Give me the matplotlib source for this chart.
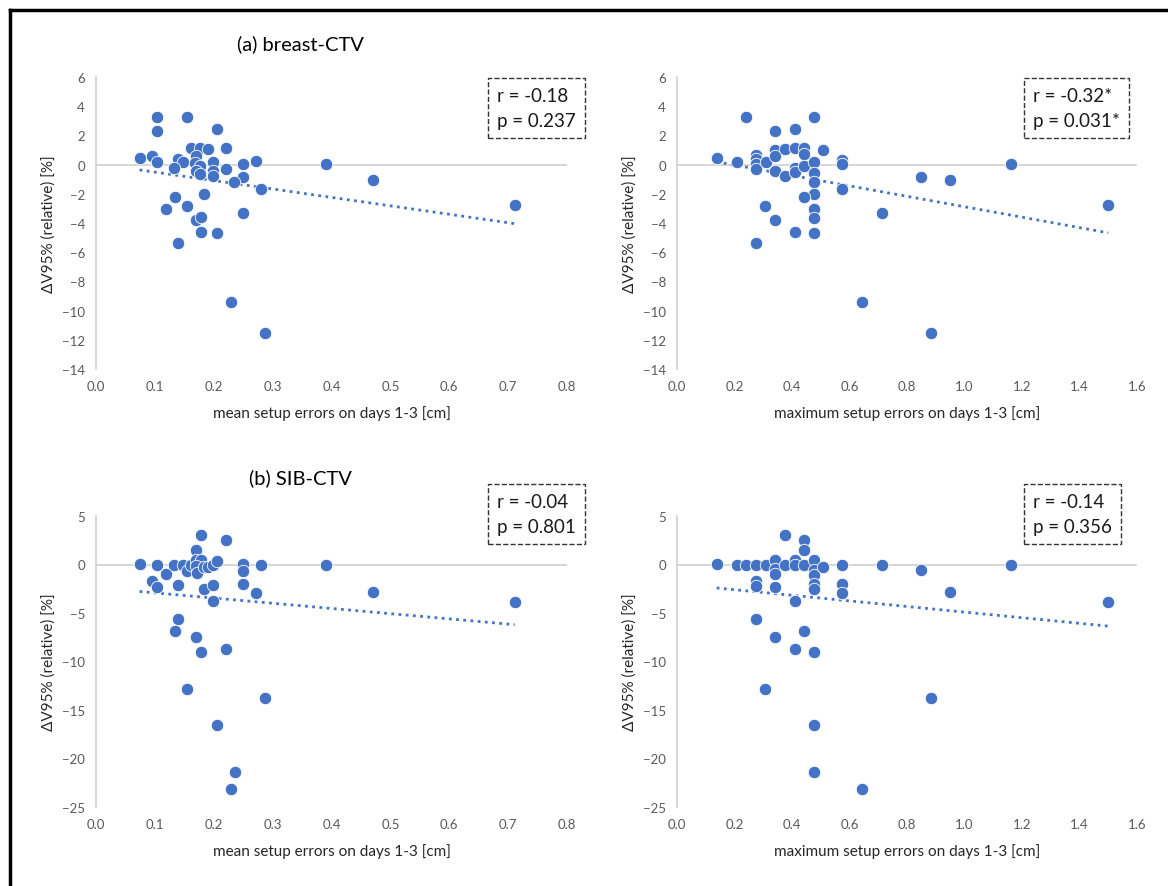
import numpy as np
import matplotlib.pyplot as plt
from matplotlib.lines import Line2D

# (a) breast-CTV, mean setup errors
a_mean_x = [0.074, 0.103, 0.103, 0.154, 0.205, 0.095, 0.103, 0.139, 0.147, 0.133,
            0.162, 0.177, 0.191, 0.221, 0.170, 0.169, 0.177, 0.170, 0.177, 0.198,
            0.198, 0.198, 0.221, 0.250, 0.272, 0.250, 0.235, 0.280, 0.390, 0.470,
            0.184, 0.134, 0.119, 0.154, 0.170, 0.178, 0.250, 0.178, 0.205, 0.139,
            0.229, 0.287, 0.711]
a_mean_y = [0.43, 3.24, 2.33, 3.24, 2.44, 0.62, 0.21, 0.41, 0.16, -0.23,
            1.12, 1.12, 1.07, 1.16, 0.57, 0.11, -0.07, -0.41, -0.62, 0.16,
            -0.41, -0.80, -0.30, 0.05, 0.27, -0.84, -1.16, -1.64, 0.07, -1.03,
            -1.99, -2.24, -3.04, -2.85, -3.77, -3.61, -3.33, -4.60, -4.68, -5.39,
            -9.43, -11.55, -2.74]

# (a) breast-CTV, maximum setup errors
a_max_x = [0.138, 0.207, 0.240, 0.274, 0.274, 0.274, 0.274, 0.309, 0.341, 0.341,
           0.341, 0.341, 0.376, 0.376, 0.409, 0.409, 0.409, 0.409, 0.443, 0.443,
           0.443, 0.478, 0.478, 0.478, 0.478, 0.478, 0.478, 0.478, 0.478, 0.508,
           0.443, 0.307, 0.341, 0.409, 0.274, 0.575, 0.575, 0.575, 0.712, 0.644,
           0.849, 0.951, 0.882, 1.160, 1.500]
a_max_y = [0.43, 0.18, 3.24, 0.68, 0.39, 0.07, -0.27, 0.16, 2.33, 1.03,
           0.62, -0.41, 1.07, -0.80, 2.44, 1.12, -0.25, -0.50, 1.16, 0.71,
           -0.11, 3.24, 0.16, -0.59, -1.16, -2.01, -3.01, -3.63, -4.68, 1.03,
           -2.24, -2.85, -3.77, -4.60, -5.39, 0.34, 0.05, -1.64, -3.33, -9.43,
           -0.84, -1.03, -11.55, 0.07, -2.74]

# (b) SIB-CTV, mean setup errors
b_mean_x = [0.074, 0.103, 0.095, 0.103, 0.119, 0.133, 0.139, 0.147, 0.154, 0.162,
            0.170, 0.178, 0.170, 0.178, 0.170, 0.172, 0.183, 0.191, 0.199, 0.206,
            0.220, 0.184, 0.199, 0.199, 0.250, 0.250, 0.250, 0.280, 0.272, 0.390,
            0.470, 0.711, 0.139, 0.134, 0.170, 0.178, 0.220, 0.154, 0.287, 0.205,
            0.236, 0.229]
b_mean_y = [0.10, 0.00, -1.71, -2.36, -0.99, 0.00, -2.15, 0.00, -0.68, -0.03,
            1.47, 3.07, 0.51, 0.51, -0.17, -0.92, -0.24, -0.24, -0.03, 0.41,
            2.56, -2.49, -2.08, -3.72, 0.07, -0.68, -1.98, 0.00, -2.90, 0.00,
            -2.80, -3.90, -5.64, -6.83, -7.48, -9.05, -8.71, -12.80, -13.80, -16.57,
            -21.35, -23.10]

# (b) SIB-CTV, maximum setup errors
b_max_x = [0.138, 0.207, 0.240, 0.274, 0.274, 0.274, 0.274, 0.309, 0.307, 0.341,
           0.341, 0.341, 0.341, 0.341, 0.376, 0.376, 0.409, 0.409, 0.409, 0.409,
           0.443, 0.443, 0.443, 0.443, 0.478, 0.478, 0.478, 0.478, 0.478, 0.478,
           0.478, 0.478, 0.508, 0.575, 0.575, 0.575, 0.644, 0.712, 0.849, 0.882,
           0.951, 1.160, 1.500]
b_max_y = [0.10, 0.00, 0.00, 0.00, -1.71, -2.22, -5.64, -0.10, -12.80, 0.44,
           -0.51, -0.96, -2.36, -7.48, 3.07, 0.00, 0.44, -0.10, -3.72, -8.71,
           2.56, 1.47, -0.10, -6.83, 0.51, -0.61, -1.06, -2.05, -2.56, -9.05,
           -16.57, -21.35, -0.24, 0.00, -1.98, -2.90, -23.10, 0.00, -0.61, -13.80,
           -2.80, 0.00, -3.90]

stats = ["r = -0.18\np = 0.237", "r = -0.32*\np = 0.031*",
         "r = -0.04\np = 0.801", "r = -0.14\np = 0.356"]
titles = ["(a) breast-CTV", "(b) SIB-CTV"]
xlabels = ["mean setup errors on days 1-3 [cm]", "maximum setup errors on days 1-3 [cm]"]
ylabel = "\u0394V95% (relative) [%]"

blue = "#4472C4"
grey = "#595959"
plt.rcParams['font.family'] = ['Lato', 'DejaVu Sans']

fig = plt.figure(figsize=(11.68, 8.87), dpi=100)

W, H = 1168.0, 887.0
boxes = [(96, 78, 567, 370), (677, 78, 1137, 370),
         (96, 517, 567, 808), (677, 517, 1137, 808)]
# where the r/p text starts (left, top) in pixels
stat_pos = [(497, 88), (1033, 88), (497, 494), (1033, 494)]
panels = [(a_mean_x, a_mean_y, 0.8, 0.1, (-14, 6), 2),
          (a_max_x, a_max_y, 1.6, 0.2, (-14, 6), 2),
          (b_mean_x, b_mean_y, 0.8, 0.1, (-25, 5), 5),
          (b_max_x, b_max_y, 1.6, 0.2, (-25, 5), 5)]

for k in range(4):
    x0, y0, x1, y1 = boxes[k]
    ax = fig.add_axes([x0 / W, 1 - y1 / H, (x1 - x0) / W, (y1 - y0) / H])
    xs, ys, xmax, xstep, ylim, ystep = panels[k]
    xs = np.array(xs)
    ys = np.array(ys)

    ax.axhline(0, color="#d0d0d0", lw=1.2, zorder=1)
    ax.scatter(xs, ys, s=80, color=blue, edgecolor="white", linewidth=0.6, zorder=3)

    # linear trend line
    m, b = np.polyfit(xs, ys, 1)
    xl = np.array([xs.min(), xs.max()])
    ax.plot(xl, m * xl + b, ls=(0, (1, 1.6)), color=blue, lw=2, zorder=2)

    ax.set_xlim(0, xmax)
    ax.set_ylim(*ylim)
    ax.set_xticks(np.arange(0, xmax + 1e-9, xstep))
    ax.set_xticklabels([f"{v:.1f}" for v in np.arange(0, xmax + 1e-9, xstep)])
    ax.set_yticks(np.arange(ylim[0], ylim[1] + 1, ystep))
    ax.tick_params(length=0, labelsize=9.5, colors=grey)
    ax.tick_params(axis="x", pad=8)
    ax.tick_params(axis="y", pad=8)
    for s in ["top", "right", "bottom"]:
        ax.spines[s].set_visible(False)
    ax.spines["left"].set_color("#d0d0d0")
    ax.spines["left"].set_linewidth(1.2)

    ax.set_xlabel(xlabels[k % 2], fontsize=11, color="#262626", labelpad=9)
    ax.set_ylabel(ylabel, fontsize=11, color="#262626", labelpad=4)

    px, py = stat_pos[k]
    fig.text(px / W, 1 - py / H, stats[k], ha="left", va="top",
             fontsize=13.5, linespacing=1.55, color="#1a1a1a",
             bbox=dict(boxstyle="square,pad=0.5", fc="white", ec="#333333",
                       ls="--", lw=1.0))

fig.text(300 / W, 1 - 44 / H, titles[0], ha="center", va="center", fontsize=14.5)
fig.text(300 / W, 1 - 478 / H, titles[1], ha="center", va="center", fontsize=14.5)

# black frame on the left and top
fig.add_artist(Line2D([10 / W, 10 / W], [0, 1 - 11 / H], color="black", lw=2.5,
                      transform=fig.transFigure))
fig.add_artist(Line2D([10 / W, 1], [1 - 11 / H, 1 - 11 / H], color="black", lw=2.5,
                      transform=fig.transFigure))

fig.savefig("out.png", dpi=100)
